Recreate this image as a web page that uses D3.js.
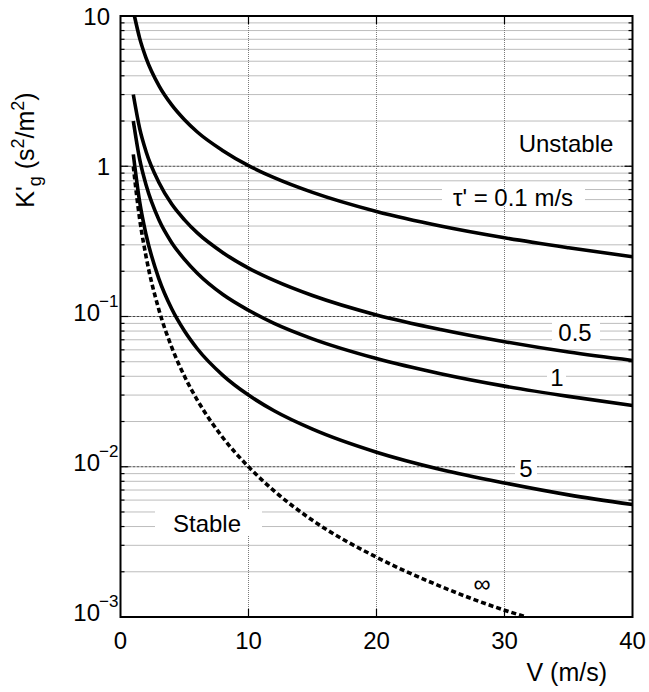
<!DOCTYPE html>
<html>
<head>
<style>
body { margin: 0; background: #fff; }
text { font-family: Arial, "Liberation Sans", sans-serif; fill: #000; }
</style>
</head>
<body>
<svg id='chart'></svg>

<script src="https://cdn.jsdelivr.net/npm/d3@7"></script>
<script>
W = 649
H = 692
PLOT = {left: 120.5, right: 632.5, top: 16, bottom: 617}

// V (m/s) sample points
V_STD = [1, 1.5, 2, 3, 4, 5, 6, 8, 10, 12, 15, 20, 25, 30, 35, 40]
V_01  = [1.1, 1.5, 2, 3, 4, 5, 6, 8, 10, 12, 15, 20, 25, 30, 35, 40]
V_INF = [1, 1.5, 2, 3, 4, 5, 6, 8, 10, 12, 15, 20, 25, 30, 31.7]

// K'g (s^2/m^2) for each tau'
K_01  = [9.9, 7.1, 5.25, 3.44, 2.56, 2.04, 1.69, 1.27, 1.01, 0.84, 0.67, 0.50, 0.40, 0.334, 0.287, 0.25]
K_05  = [3.0, 1.78, 1.25, 0.78, 0.56, 0.44, 0.36, 0.266, 0.21, 0.174, 0.138, 0.1025, 0.082, 0.068, 0.058, 0.051]
K_1   = [2.0, 1.11, 0.75, 0.44, 0.31, 0.24, 0.194, 0.14, 0.11, 0.09, 0.071, 0.0525, 0.0416, 0.0344, 0.0294, 0.0256]
K_5   = [1.2, 0.578, 0.35, 0.178, 0.1125, 0.08, 0.061, 0.0406, 0.03, 0.0236, 0.0178, 0.0125, 0.0096, 0.0078, 0.0065, 0.0056]
K_INF = [1.0, 0.444, 0.25, 0.111, 0.0625, 0.04, 0.0278, 0.0156, 0.01, 0.0069, 0.0044, 0.0025, 0.0016, 0.00111, 0.001]

X_TICKS = [0, 10, 20, 30, 40]
Y_DECADES = [10, 1, 0.1, 0.01, 0.001]
Y_TICK_LABELS = [['10', ''], ['1', ''], ['10', '\u22121'], ['10', '\u22122'], ['10', '\u22123']]

var svg = d3.select('#chart').attr('width', W).attr('height', H)

var x = d3.scaleLinear().domain([0, 40]).range([PLOT.left, PLOT.right])
var y = d3.scaleLog().domain([0.001, 10]).range([PLOT.bottom, PLOT.top])

function isDecade(d) { return Y_DECADES.indexOf(+d.toPrecision(3)) >= 0 }

// minor + major horizontal grid values
var gridVals = []
for (var e = -3; e < 1; e++) {
	for (var m = 1; m < 10; m++) gridVals.push(+(m * Math.pow(10, e)).toPrecision(3))
}
gridVals = gridVals.filter(function(d){ return d > 0.001 })

var grid = svg.append('g')
grid.selectAll('line.h')
	.data(gridVals)
	.enter().append('line')
	.attr('x1', PLOT.left).attr('x2', PLOT.right)
	.attr('y1', function(d){ return y(d) }).attr('y2', function(d){ return y(d) })
	.style('stroke', function(d){ return isDecade(d) ? '#444' : '#7a7a7a' })
	.style('stroke-width', 1)
	.attr('stroke-dasharray', function(d){ return isDecade(d) ? '3,1' : '1,1' })

grid.selectAll('line.v')
	.data([10, 20, 30])
	.enter().append('line')
	.attr('x1', function(d){ return x(d) }).attr('x2', function(d){ return x(d) })
	.attr('y1', PLOT.top).attr('y2', PLOT.bottom)
	.style('stroke', '#7a7a7a')
	.style('stroke-width', 1)
	.attr('stroke-dasharray', '1,1')

// labels; white boxes blank out the grid behind them
var labels = [
	{t: 'Unstable', cx: 566, cy: 143, bx: 505, bw: 125, bh: 28},
	{t: '\u03C4\' = 0.1 m/s', cx: 513, cy: 197, bx: 442, bw: 143, bh: 16},
	{t: '0.5', cx: 575, cy: 332, bx: 552, bw: 48, bh: 22},
	{t: '1', cx: 557, cy: 377, bx: 547, bw: 19, bh: 20},
	{t: '5', cx: 526, cy: 468, bx: 515, bw: 22, bh: 20},
	{t: 'Stable', cx: 207, cy: 523, bx: 155, bw: 107, bh: 26}
]

svg.selectAll('rect.lbl')
	.data(labels)
	.enter().append('rect')
	.attr('x', function(d){ return d.bx })
	.attr('y', function(d){ return d.cy - d.bh / 2 })
	.attr('width', function(d){ return d.bw })
	.attr('height', function(d){ return d.bh })
	.style('fill', '#fff')

svg.selectAll('text.lbl')
	.data(labels)
	.enter().append('text')
	.attr('x', function(d){ return d.cx })
	.attr('y', function(d){ return d.cy + 8.5 })
	.attr('text-anchor', 'middle')
	.attr('font-size', 24)
	.text(function(d){ return d.t })

svg.append('text')
	.attr('x', 482)
	.attr('y', 592)
	.attr('text-anchor', 'middle')
	.attr('font-size', 24)
	.text('\u221E')

// curves
var line = d3.line()
	.x(function(d){ return x(d[0]) })
	.y(function(d){ return y(d[1]) })
	.curve(d3.curveMonotoneX)

var series = [
	[V_01, K_01, null],
	[V_STD, K_05, null],
	[V_STD, K_1, null],
	[V_STD, K_5, null],
	[V_INF, K_INF, '5,3']
]

svg.append('clipPath').attr('id', 'clip').append('rect')
	.attr('x', PLOT.left).attr('y', PLOT.top)
	.attr('width', PLOT.right - PLOT.left).attr('height', PLOT.bottom - PLOT.top)

series.forEach(function(s){
	var pts = s[0].map(function(v, i){ return [v, s[1][i]] })
	svg.append('path')
		.attr('clip-path', 'url(#clip)')
		.style('fill', 'none')
		.style('stroke', '#000')
		.style('stroke-width', 3.6)
		.attr('stroke-dasharray', s[2])
		.attr('d', line(pts))
})

// frame + ticks
svg.append('rect')
	.attr('x', PLOT.left).attr('y', PLOT.top)
	.attr('width', PLOT.right - PLOT.left).attr('height', PLOT.bottom - PLOT.top)
	.style('fill', 'none').style('stroke', '#000').style('stroke-width', 2)

var ticks = svg.append('g').style('stroke', '#000').style('stroke-width', 1.2)
gridVals.forEach(function(d){
	var len = isDecade(d) ? 8 : 4
	ticks.append('line').attr('x1', PLOT.left).attr('x2', PLOT.left + len).attr('y1', y(d)).attr('y2', y(d))
	ticks.append('line').attr('x1', PLOT.right).attr('x2', PLOT.right - len).attr('y1', y(d)).attr('y2', y(d))
})
;[10, 20, 30].forEach(function(d){
	ticks.append('line').attr('x1', x(d)).attr('x2', x(d)).attr('y1', PLOT.bottom).attr('y2', PLOT.bottom - 8)
	ticks.append('line').attr('x1', x(d)).attr('x2', x(d)).attr('y1', PLOT.top).attr('y2', PLOT.top + 8)
})

// x tick labels
svg.selectAll('text.xt')
	.data(X_TICKS)
	.enter().append('text')
	.attr('x', function(d){ return x(d) })
	.attr('y', PLOT.bottom + 32)
	.attr('text-anchor', 'middle')
	.attr('font-size', 24)
	.text(function(d){ return d })

// y tick labels
Y_DECADES.forEach(function(d, i){
	var sup = Y_TICK_LABELS[i][1]
	svg.append('text')
		.attr('x', sup ? 100 : 110)
		.attr('y', y(d) + (sup ? 4 : 8.5))
		.attr('text-anchor', 'end')
		.attr('font-size', 24)
		.text(Y_TICK_LABELS[i][0])
	if (sup) {
		svg.append('text')
			.attr('x', 99)
			.attr('y', y(d) - 10)
			.attr('font-size', 17)
			.text(sup)
	}
})

// axis titles
svg.append('text')
	.attr('x', 607)
	.attr('y', 681)
	.attr('text-anchor', 'end')
	.attr('font-size', 25)
	.text('V (m/s)')

var yl = svg.append('text')
	.attr('transform', 'translate(34,150) rotate(-90)')
	.attr('text-anchor', 'middle')
	.attr('font-size', 25)
yl.append('tspan').text("K'")
yl.append('tspan').attr('font-size', 18).attr('dy', 7).text('g')
yl.append('tspan').attr('dy', -7).text(' (s')
yl.append('tspan').attr('font-size', 18).attr('dy', -10).text('2')
yl.append('tspan').attr('dy', 10).text('/m')
yl.append('tspan').attr('font-size', 18).attr('dy', -10).text('2')
yl.append('tspan').attr('dy', 10).text(')')
</script>
</body>
</html>
